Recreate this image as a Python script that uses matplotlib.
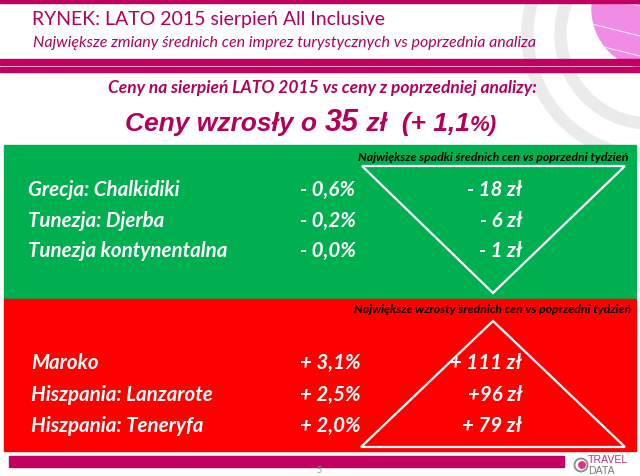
import matplotlib.pyplot as plt
from matplotlib.patches import Rectangle, Polygon, Wedge, Circle

# --- Content ---
title = "RYNEK: LATO 2015 sierpień All Inclusive"
subtitle = "Największe zmiany średnich cen imprez turystycznych vs poprzednia analiza"
intro = "Ceny na sierpień LATO 2015 vs ceny z poprzedniej analizy:"
total_pln = "35"
total_pct = "1,1"

drop_header = "Największe spadki średnich cen vs poprzedni tydzień"
drop_places = ["Grecja: Chalkidiki", "Tunezja: Djerba", "Tunezja kontynentalna"]
drop_pct = ["- 0,6%", "- 0,2%", "- 0,0%"]
drop_pln = ["- 18 zł", "- 6 zł", "- 1 zł"]

rise_header = "Największe wzrosty średnich cen vs poprzedni tydzień"
rise_places = ["Maroko", "Hiszpania: Lanzarote", "Hiszpania: Teneryfa"]
rise_pct = ["+ 3,1%", "+ 2,5%", "+ 2,0%"]
rise_pln = ["+ 111 zł", "+96 zł", "+ 79 zł"]

page_no = "5"

# --- Style ---
MAGENTA = "#C3005F"
TXT_MAG = "#B4005A"
GREEN = "#00B050"
RED = "#FF0000"
RING = "#EBEBEB"
BODY = "Lato"
BIG = "Liberation Sans"

fig = plt.figure(figsize=(6.4, 4.77), dpi=100)
ax = fig.add_axes([0, 0, 1, 1])
ax.set_xlim(0, 640)
ax.set_ylim(477, 0)
ax.axis("off")

# background decoration
ax.add_patch(Wedge((650, 35), 128, 0, 360, width=11, color=RING, zorder=0))
ax.add_patch(Wedge((650, 35), 95, 0, 360, width=11, color=RING, zorder=0))
ax.add_patch(Circle((652, 10), 60, color="#F08CE4", zorder=1))
for yy in (-5, 25, 45):
    ax.plot([592, 640], [yy, yy + 12], color="white", lw=0.8, alpha=0.7, zorder=1)

# header bars
ax.add_patch(Rectangle((0, 0), 640, 4, color=MAGENTA, zorder=2))
ax.add_patch(Rectangle((0, 60), 640, 6, color=MAGENTA, zorder=2))
ax.add_patch(Rectangle((0, 68), 640, 5, color=MAGENTA, zorder=2))

ax.text(32, 20, title, fontsize=14, family=BODY, color=TXT_MAG,
        va="center", ha="left", zorder=3)
ax.text(33, 43, subtitle, fontsize=11.5, family=BODY, style="italic",
        color=TXT_MAG, va="center", ha="left", zorder=3)
ax.text(322, 88, intro, fontsize=12.5, family=BODY, style="italic",
        weight="bold", color=TXT_MAG, va="center", ha="center", zorder=3)

# big headline assembled from pieces
pieces = [("Ceny wzrosły o ", 19), (total_pln, 22), (" zł  (+ " + total_pct, 19), ("%)", 16)]
renderer = fig.canvas.get_renderer()
texts = []
for s, fs in pieces:
    t = ax.text(0, 131, s, fontsize=fs, family=BIG, style="italic",
                weight="bold", color=TXT_MAG, va="baseline", ha="left", zorder=3)
    texts.append(t)
widths = [t.get_window_extent(renderer).width for t in texts]
x = 311 - sum(widths) / 2
for t, w in zip(texts, widths):
    t.set_x(x)
    x += w

# coloured panels
ax.add_patch(Rectangle((4, 146), 632, 154, color=GREEN, zorder=2))
ax.add_patch(Rectangle((4, 300), 632, 152, color=RED, zorder=2))

ax.add_patch(Polygon([(362, 167), (625, 167), (493, 294)], closed=True,
                     fill=False, edgecolor="white", lw=1.6, zorder=3))
ax.add_patch(Polygon([(493, 322), (361, 448), (625, 448)], closed=True,
                     fill=False, edgecolor="white", lw=1.6, zorder=3))

ax.text(493, 158, drop_header, fontsize=8.8, family=BODY, style="italic",
        weight="bold", color="black", ha="center", va="center", zorder=4)
ax.text(493, 310, rise_header, fontsize=8.8, family=BODY, style="italic",
        weight="bold", color="black", ha="center", va="center", zorder=4)

row_fs = 14.8
for i, y in enumerate([190, 221, 251]):
    ax.text(28, y, drop_places[i], fontsize=row_fs, family=BODY, style="italic",
            weight="bold", color="white", va="center", zorder=4)
    ax.text(300, y, drop_pct[i], fontsize=row_fs, family=BODY, style="italic",
            weight="bold", color="white", va="center", zorder=4)
    ax.text(522, y, drop_pln[i], fontsize=row_fs, family=BODY, style="italic",
            weight="bold", color="white", va="center", ha="right", zorder=4)
for i, y in enumerate([363, 395, 426]):
    ax.text(31, y, rise_places[i], fontsize=row_fs, family=BODY, style="italic",
            weight="bold", color="white", va="center", zorder=4)
    ax.text(300, y, rise_pct[i], fontsize=row_fs, family=BODY, style="italic",
            weight="bold", color="white", va="center", zorder=4)
    ax.text(522, y, rise_pln[i], fontsize=row_fs, family=BODY, style="italic",
            weight="bold", color="white", va="center", ha="right", zorder=4)

# footer
ax.add_patch(Rectangle((9, 457), 555, 11, color=MAGENTA, zorder=2))
ax.text(319, 471, page_no, fontsize=6.5, family=BODY, color="#999999",
        ha="center", va="center", zorder=3)
ax.add_patch(Circle((581, 466), 6.5, fill=False, edgecolor="#8A8A8A", lw=1.3, zorder=3))
ax.add_patch(Circle((582, 466), 3.2, color="#E0318A", zorder=3))
ax.text(588, 460.5, "TRAVEL", fontsize=7.6, family=BIG, color="#C03080",
        ha="left", va="center", zorder=3)
ax.text(588, 471, "DATA", fontsize=7.6, family=BIG, color="#7A7A7A",
        ha="left", va="center", zorder=3)

fig.savefig("out.png", dpi=100)
